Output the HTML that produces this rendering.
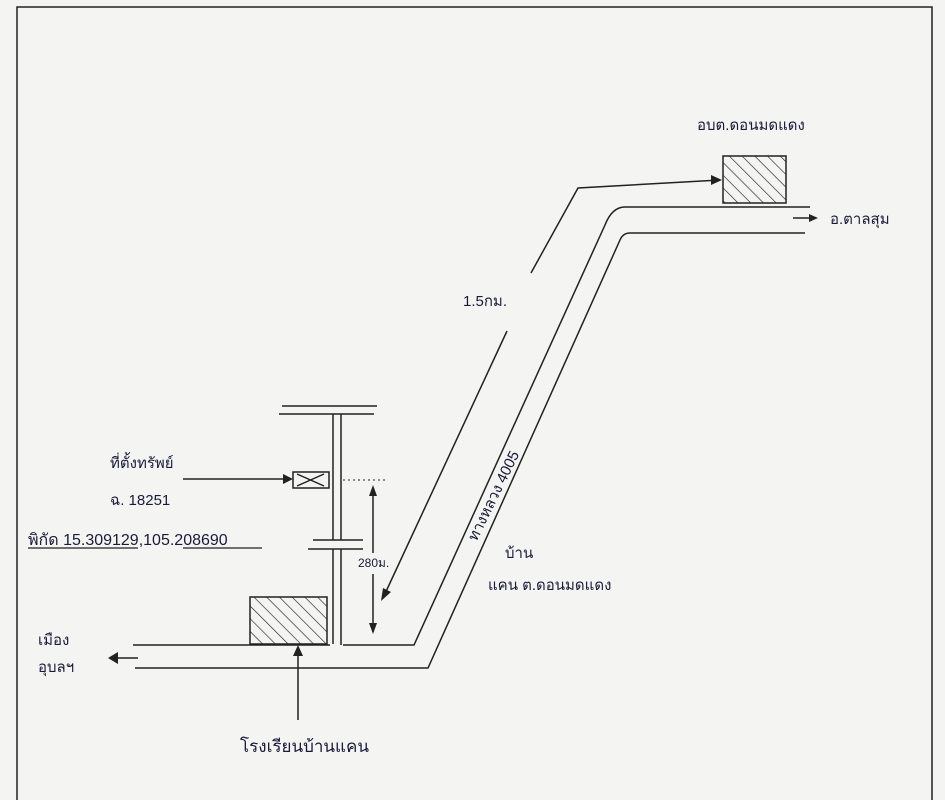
<!DOCTYPE html>
<html><head><meta charset="utf-8"><style>
html,body{margin:0;padding:0;background:#f4f4f2;}
svg{display:block}
text{font-family:"Liberation Sans","Noto Sans CJK SC",sans-serif;fill:#1a1a3a;}
</style></head><body>
<svg width="945" height="800" viewBox="0 0 945 800" xmlns="http://www.w3.org/2000/svg">
<defs>
<pattern id="h" width="9" height="9" patternUnits="userSpaceOnUse" patternTransform="rotate(-45)">
<line x1="0" y1="0" x2="0" y2="9" stroke="#222" stroke-width="1.3"/>
</pattern>
</defs>
<rect x="0" y="0" width="945" height="800" fill="#f4f4f2"/>
<g stroke="#222" fill="none" stroke-width="1.5">
<polyline points="17,805 17,7 932,7 932,805"/>
<line x1="282" y1="406" x2="377" y2="406"/>
<line x1="279" y1="414" x2="374" y2="414"/>
<line x1="333" y1="414" x2="333" y2="540"/>
<line x1="341" y1="414" x2="341" y2="540"/>
<line x1="333" y1="549" x2="333" y2="644"/>
<line x1="341" y1="549" x2="341" y2="645"/>
<line x1="313" y1="540" x2="363" y2="540"/>
<line x1="308" y1="549" x2="363" y2="549"/>
<rect x="293" y="472" width="36" height="16"/>
<line x1="297" y1="474" x2="324" y2="486"/>
<line x1="297" y1="486" x2="324" y2="474"/>
<line x1="183" y1="479" x2="291" y2="479"/>
<line x1="343" y1="480" x2="388" y2="480" stroke-dasharray="2,3" stroke-width="1"/>
<line x1="373" y1="489" x2="373" y2="553"/>
<line x1="373" y1="574" x2="373" y2="632"/>
<rect x="250" y="597" width="77" height="47" fill="url(#h)"/>
<line x1="133" y1="645" x2="330" y2="645"/>
<path d="M343,645 L414,645 L605,225 Q612,207 625,207 L810,207"/>
<path d="M135,668 L428,668 L620,240 Q623,233 630,233 L805,233"/>
<line x1="110" y1="658" x2="138" y2="658"/>
<line x1="298" y1="720" x2="298" y2="650"/>
<line x1="793" y1="218" x2="815" y2="218"/>
<polyline points="531,273 578,188 720,180"/>
<line x1="507" y1="331" x2="383" y2="598"/>
<rect x="723" y="156" width="63" height="47" fill="url(#h)"/>
</g>
<g fill="#222">
<polygon points="293,479 283,474 283,484"/>
<polygon points="373,485 369,496 377,496"/>
<polygon points="373,634 369,623 377,623"/>
<polygon points="298,645 293,656 303,656"/>
<polygon points="108,658 118,652 118,664"/>
<polygon points="818,218 809,214 809,222"/>
<polygon points="722,180 711,175 711,185"/>
<polygon points="381,601 383,588 391,592"/>
</g>
<g font-size="15">
<text x="110" y="468">ที่ตั้งทรัพย์</text>
<text x="110" y="505">ฉ. 18251</text>
<text x="28" y="545" font-size="16">พิกัด 15.309129,105.208690</text>
<text x="358" y="567" font-size="12">280ม.</text>
<text x="38" y="645">เมือง</text>
<text x="38" y="672">อุบลฯ</text>
<text x="240" y="752" font-size="17">โรงเรียนบ้านแคน</text>
<text x="463" y="306">1.5กม.</text>
<text x="505" y="558">บ้าน</text>
<text x="488" y="590">แคน ต.ดอนมดแดง</text>
<text x="697" y="130">อบต.ดอนมดแดง</text>
<text x="830" y="224">อ.ตาลสุม</text>
<text x="498" y="498" transform="rotate(-64 498 498)" text-anchor="middle">ทางหลวง 4005</text>
</g>
<g stroke="#222" stroke-width="1.3">
<line x1="28" y1="548" x2="138" y2="548"/>
<line x1="183" y1="548" x2="262" y2="548"/>
</g>
</svg>
</body></html>
